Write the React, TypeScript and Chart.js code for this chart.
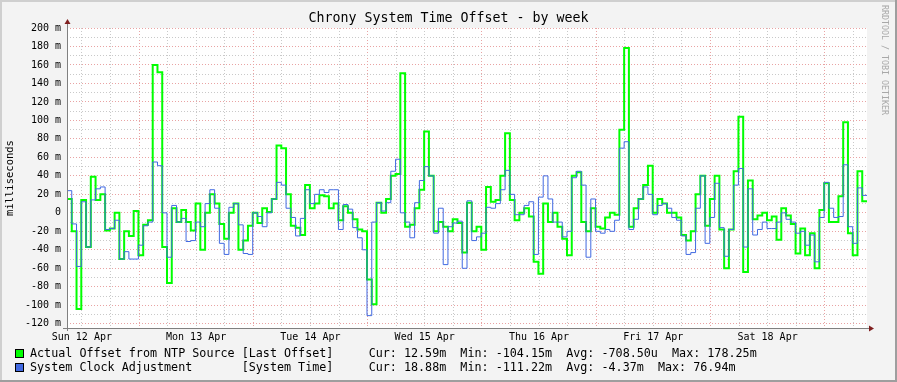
import React, { useEffect, useRef } from 'react';
import { Chart, registerables } from 'chart.js';

Chart.register(...registerables);

// ---- data (hourly samples, milliseconds) ----
const dayLabels = ['Sun 12 Apr', 'Mon 13 Apr', 'Tue 14 Apr', 'Wed 15 Apr', 'Thu 16 Apr', 'Fri 17 Apr', 'Sat 18 Apr'];

const offsetValues = [
  15, -20, -104.15, 14, -37, 39, 14, 20, -19, -17,
  0, -50, -20, -25, 2, -46, -13, -8, 160, 152,
  -37, -76, 5, -10, 3, -10, -19, 10, -40, 0,
  20, 10, -12, -28, 0, 10, -40, -30, -14, 0,
  -11, 5, 1, 15, 73, 70, 20, -14, -16, -24,
  30, 5, 10, 19, 18, 5, 10, -8, 7, 0,
  -7, -18, -20, -72, -99, 11, 0, 15, 40, 42,
  151, -15, -13, 5, 25, 88, 40, -20, -10, -15,
  -20, -7, -11, -43, 11, -20, -15, -40, 28, 12,
  14, 40, 86, 14, -8, 0, 5, -4, -53, -66,
  10, -10, 0, -15, -28, -46, 40, 44, -10, -20,
  5, -15, -17, -5, 0, -2, 90, 178.25, -15, 5,
  15, 30, 51, 0, 15, 10, 0, 0, -5, -24,
  -30, -20, 20, 40, -14, 15, 40, -18, -60, -18,
  45, 104, -64, 35, -7, -3, 0, -8, -4, -29,
  5, -3, -12, -44, -17, -46, -22, -60, 3, 32,
  -10, -10, 18, 98, -22, -46, 45, 12.59,
];

const adjustValues = [
  24, -12, -58, 12, -37, 14, 26, 28, -18, -17,
  -8, -50, -42, -50, -50, -35, -14, -10, 55, 51,
  0, -48, 8, -10, -6, -31, -30, -10, -15, 10,
  25, 5, -33, -45, 6, 10, -13, -44, -45, 0,
  -4, -15, 0, 15, 33, 30, 5, -5, -25, -6,
  25, 10, 20, 25, 22, 25, 25, -18, 9, 4,
  -16, -27, -40, -111.22, -10, 11, 2, 11, 45, 58,
  0, -10, -27, 11, 35, 50, 40, -22, 5, -56,
  -15, -11, -9, -60, 13, -30, -26, -22, 6, 5,
  10, 25, 46, 20, -2, -2, 8, 12, -45, 17,
  40, 15, -10, -10, -26, -20, 38, 45, 30, -48,
  15, -20, -22, -18, -20, -8, 70, 76.94, -18, -7,
  15, 28, 20, -2, 8, 10, 5, -5, -8, -25,
  -45, -43, 5, 40, -33, -5, 32, -16, -47, -18,
  30, 48, -37, 26, -24, -18, -10, -17, -17, -10,
  0, -7, -10, -22, -20, -35, -24, -53, -5, 33,
  5, -5, -4, 52, -15, -33, 27, 18.88,
];

const seriesNames = ['Actual Offset from NTP Source', 'System Clock Adjustment'];
const seriesSources = ['[Last Offset]', '[System Time]'];
const curValues = ['12.59m', '18.88m'];
const minValues = ['-104.15m', '-111.22m'];
const avgValues = ['-708.50u', '-4.37m'];
const maxValues = ['178.25m', '76.94m'];
const seriesColors = ['#00FF00', '#4169E1'];

const titleText = 'Chrony System Time Offset - by week';
const yAxisTitle = 'milliseconds';
const watermark = 'RRDTOOL / TOBI OETIKER';

const hoursShown = 168;
const firstMidnight = 15.12; // hours from graph start to Mon 13 Apr 00:00
const yMin = -124.6;
const yMax = 200;
const yTickValues: number[] = [];
for (let v = -120; v <= 200; v += 10) yTickValues.push(v);
const xTickValues: number[] = [];
for (let k = -2; firstMidnight + 6 * k <= hoursShown; k++) {
  const t = firstMidnight + 6 * k;
  if (t >= 0) xTickValues.push(t);
}

const MONO = '"DejaVu Sans Mono", monospace';
const MAJOR = '#E9A3A3';
const MINOR = '#C9C9C9';

function toPoints(values: number[]) {
  const pts = values.map((v, i) => ({ x: i, y: v }));
  pts.push({ x: values.length, y: values[values.length - 1] });
  return pts;
}

function isMidnight(t: number) {
  const r = (((t - firstMidnight) % 24) + 24) % 24;
  return Math.abs(r) < 0.01 || Math.abs(r - 24) < 0.01;
}
function isNoon(t: number) {
  const r = (((t - firstMidnight) % 24) + 24) % 24;
  return Math.abs(r - 12) < 0.01;
}

const decor = {
  id: 'rrdDecor',
  beforeDraw(chart: any) {
    const { ctx, chartArea: a, width, height } = chart;
    ctx.save();
    ctx.fillStyle = '#F3F3F3';
    ctx.fillRect(0, 0, width, height);
    ctx.fillStyle = '#CFCFCF';
    ctx.fillRect(0, 0, width, 2);
    ctx.fillRect(0, 0, 2, height);
    ctx.fillStyle = '#9E9E9E';
    ctx.fillRect(0, height - 2, width, 2);
    ctx.fillRect(width - 2, 0, 2, height);
    ctx.fillStyle = '#FFFFFF';
    ctx.fillRect(a.left, a.top, a.right - a.left, a.bottom - a.top);
    ctx.restore();
  },
  afterDraw(chart: any) {
    const { ctx, chartArea: a, width } = chart;
    ctx.save();
    // axes
    ctx.strokeStyle = '#808080';
    ctx.lineWidth = 1;
    ctx.beginPath();
    ctx.moveTo(a.left - 4, a.bottom + 0.5);
    ctx.lineTo(a.right + 4, a.bottom + 0.5);
    ctx.moveTo(a.left + 0.5, a.bottom + 3);
    ctx.lineTo(a.left + 0.5, a.top - 5);
    ctx.stroke();
    ctx.fillStyle = '#7F1F1F';
    ctx.beginPath();
    ctx.moveTo(a.left - 2.5, a.top - 4);
    ctx.lineTo(a.left + 3.5, a.top - 4);
    ctx.lineTo(a.left + 0.5, a.top - 9);
    ctx.closePath();
    ctx.fill();
    ctx.beginPath();
    ctx.moveTo(a.right + 2, a.bottom - 2.5);
    ctx.lineTo(a.right + 2, a.bottom + 3.5);
    ctx.lineTo(a.right + 7, a.bottom + 0.5);
    ctx.closePath();
    ctx.fill();

    // title
    ctx.fillStyle = '#000000';
    ctx.font = `13.3px ${MONO}`;
    ctx.textAlign = 'center';
    ctx.textBaseline = 'middle';
    ctx.fillText(titleText, width / 2, 19);

    // y axis title
    ctx.save();
    ctx.translate(10, (a.top + a.bottom) / 2);
    ctx.rotate(-Math.PI / 2);
    ctx.font = `10.5px ${MONO}`;
    ctx.fillText(yAxisTitle, 0, 0);
    ctx.restore();

    // watermark
    ctx.save();
    ctx.translate(884, 5);
    ctx.rotate(Math.PI / 2);
    ctx.fillStyle = '#A8A8A8';
    ctx.font = `8.3px ${MONO}`;
    ctx.textAlign = 'left';
    ctx.textBaseline = 'middle';
    ctx.fillText(watermark, 0, 0);
    ctx.restore();

    // legend
    ctx.font = `11.73px ${MONO}`;
    ctx.textAlign = 'left';
    ctx.textBaseline = 'middle';
    const rowsY = [354, 368];
    for (let i = 0; i < seriesNames.length; i++) {
      const y = rowsY[i];
      ctx.fillStyle = seriesColors[i];
      ctx.fillRect(15, y - 5, 9, 9);
      ctx.strokeStyle = '#000000';
      ctx.lineWidth = 1;
      ctx.strokeRect(15.5, y - 4.5, 8, 8);
      const line =
        seriesNames[i].padEnd(30) +
        seriesSources[i].padEnd(18) +
        'Cur: ' + curValues[i] +
        '  Min: ' + minValues[i] +
        '  Avg: ' + avgValues[i] +
        '  Max: ' + maxValues[i];
      ctx.fillStyle = '#000000';
      ctx.fillText(line, 30, y);
    }
    ctx.restore();
  },
};

export default function App() {
  const ref = useRef<HTMLCanvasElement>(null);
  useEffect(() => {
    document.body.style.margin = '0';
    const canvas = ref.current;
    if (!canvas) return;
    const chart = new Chart(canvas, {
      type: 'line',
      data: {
        datasets: [
          {
            label: seriesNames[1],
            data: toPoints(adjustValues),
            borderColor: seriesColors[1],
            borderWidth: 1,
            stepped: true,
            pointRadius: 0,
            fill: false,
            order: 1,
          },
          {
            label: seriesNames[0],
            data: toPoints(offsetValues),
            borderColor: seriesColors[0],
            borderWidth: 2,
            stepped: true,
            pointRadius: 0,
            fill: false,
            order: 2,
          },
        ],
      },
      options: {
        responsive: false,
        animation: false,
        devicePixelRatio: 1,
        parsing: false,
        layout: { padding: { top: 28, right: 30, left: 0, bottom: 0 } },
        plugins: {
          legend: { display: false },
          tooltip: { enabled: false },
          title: { display: false },
        },
        scales: {
          x: {
            type: 'linear',
            min: 0,
            max: hoursShown,
            afterFit: (s: any) => {
              s.height = 54;
            },
            afterBuildTicks: (s: any) => {
              s.ticks = xTickValues.map((v) => ({ value: v }));
            },
            ticks: {
              autoSkip: false,
              maxRotation: 0,
              minRotation: 0,
              padding: 3,
              color: '#000000',
              font: { family: MONO, size: 10 },
              callback: (v: any) => {
                const t = Number(v);
                if (!isNoon(t)) return '';
                const idx = Math.round((t - firstMidnight + 12) / 24);
                return dayLabels[idx] ?? '';
              },
            },
            grid: {
              drawTicks: false,
              lineWidth: 1,
              color: (c: any) => (c.tick && isMidnight(c.tick.value) ? MAJOR : MINOR),
            },
            border: { display: false, dash: [1, 2] },
          },
          y: {
            min: yMin,
            max: yMax,
            afterFit: (s: any) => {
              s.width = 67;
            },
            afterBuildTicks: (s: any) => {
              s.ticks = yTickValues.map((v) => ({ value: v }));
            },
            ticks: {
              autoSkip: false,
              padding: 6,
              color: '#000000',
              font: { family: MONO, size: 10 },
              callback: (v: any) => {
                const n = Math.round(Number(v));
                if (n % 20 !== 0) return '';
                return n === 0 ? '0' : `${n} m`;
              },
            },
            grid: {
              drawTicks: false,
              lineWidth: 1,
              color: (c: any) => (c.tick && Math.round(c.tick.value) % 20 === 0 ? MAJOR : MINOR),
            },
            border: { display: false, dash: [1, 2] },
          },
        },
      },
      plugins: [decor],
    } as any);
    return () => chart.destroy();
  }, []);
  return (
    <>
      <style>{'body{margin:0}'}</style>
      <canvas ref={ref} width={897} height={382} style={{ display: 'block', width: 897, height: 382 }} />
    </>
  );
}
